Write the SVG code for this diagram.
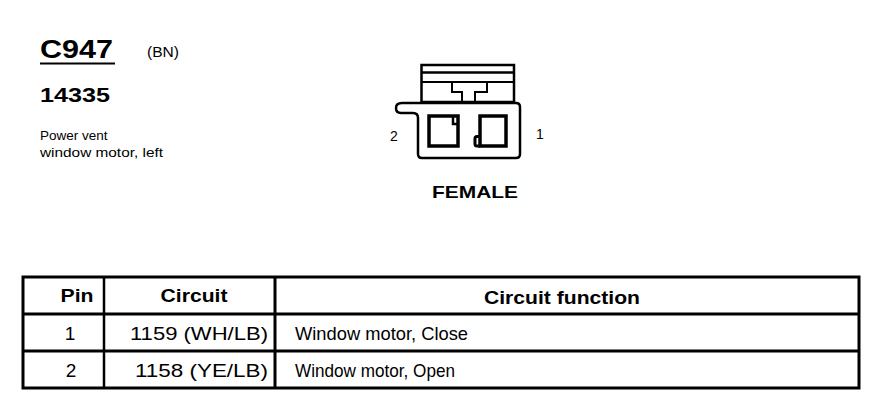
<svg xmlns="http://www.w3.org/2000/svg" width="890" height="416" viewBox="0 0 890 416">
<style>
.t{font-family:"Liberation Sans",Arial,sans-serif;fill:#000}
.b{font-weight:bold}
.ln{stroke:#000;fill:none}
.row{font-size:19px}
.sub{font-size:13.5px}
</style>
<rect width="890" height="416" fill="#fff"/>
<g id="title">
<text class="t b" x="40" y="58" font-size="26" textLength="73" lengthAdjust="spacingAndGlyphs">C947</text>
<line class="ln" x1="40" y1="63.5" x2="115" y2="63.5" stroke-width="2"/>
<text class="t" x="147" y="57" font-size="14" textLength="32" lengthAdjust="spacingAndGlyphs">(BN)</text>
<text class="t b" x="40" y="102" font-size="20" textLength="70" lengthAdjust="spacingAndGlyphs">14335</text>
<text class="t sub" x="40" y="140">Power vent</text>
<text class="t sub" x="40" y="157" textLength="123" lengthAdjust="spacingAndGlyphs">window motor, left</text>
</g>
<g id="connector">
<rect class="ln" x="421.5" y="65" width="92.5" height="37" stroke-width="2.5"/>
<line class="ln" x1="421" y1="72.5" x2="514" y2="72.5" stroke-width="2.5"/>
<line class="ln" x1="421" y1="82" x2="514" y2="82" stroke-width="2"/>
<path class="ln" d="M452 82 L452 92 L462 92 L462 102 M487 82 L487 92 L475 92 L475 102" stroke-width="2"/>
<path class="ln" d="M418 154 L418 118 Q418 113 413 113 L401 113 Q396 113 396 108 Q396 103 402 103 L516 103 Q520 103 520 107 L520 154 Q520 158 516 158 L422 158 Q418 158 418 154 Z" stroke-width="2.5" fill="#fff"/>
<rect class="ln" x="429" y="116" width="29" height="30" stroke-width="3.5"/>
<path class="ln" d="M453 116 L453 124 L458 124" stroke-width="2.5"/>
<rect class="ln" x="480" y="116" width="26" height="30" stroke-width="3.5"/>
<path class="ln" d="M480 136.5 L477 136.5 Q475 136.5 475 138.5 L475 144 Q475 146 477 146 L480 146" stroke-width="3"/>
<text class="t" x="390" y="141" font-size="14">2</text>
<text class="t" x="536" y="139" font-size="14">1</text>
<text class="t b" x="475" y="198" font-size="17" text-anchor="middle" textLength="86" lengthAdjust="spacingAndGlyphs">FEMALE</text>
</g>
<g id="table">
<rect class="ln" x="23" y="277" width="836" height="111" stroke-width="3"/>
<line class="ln" x1="23" y1="314" x2="859" y2="314" stroke-width="3"/>
<line class="ln" x1="23" y1="351" x2="859" y2="351" stroke-width="3"/>
<line class="ln" x1="104" y1="277" x2="104" y2="388" stroke-width="2.5"/>
<line class="ln" x1="275" y1="277" x2="275" y2="388" stroke-width="3"/>
<text class="t b" x="77" y="302" font-size="18" text-anchor="middle" textLength="33" lengthAdjust="spacingAndGlyphs">Pin</text>
<text class="t b" x="194" y="302" font-size="18" text-anchor="middle" textLength="67" lengthAdjust="spacingAndGlyphs">Circuit</text>
<text class="t b" x="562" y="304" font-size="18" text-anchor="middle" textLength="156" lengthAdjust="spacingAndGlyphs">Circuit function</text>
<text class="t row" x="70" y="340" text-anchor="middle">1</text>
<text class="t row" x="268" y="340" text-anchor="end" textLength="138" lengthAdjust="spacingAndGlyphs">1159 (WH/LB)</text>
<text class="t row" x="295" y="340" textLength="173" lengthAdjust="spacingAndGlyphs">Window motor, Close</text>
<text class="t row" x="71" y="377" text-anchor="middle">2</text>
<text class="t row" x="268" y="377" text-anchor="end" textLength="133" lengthAdjust="spacingAndGlyphs">1158 (YE/LB)</text>
<text class="t row" x="295" y="377" textLength="160" lengthAdjust="spacingAndGlyphs">Window motor, Open</text>
</g>
</svg>
